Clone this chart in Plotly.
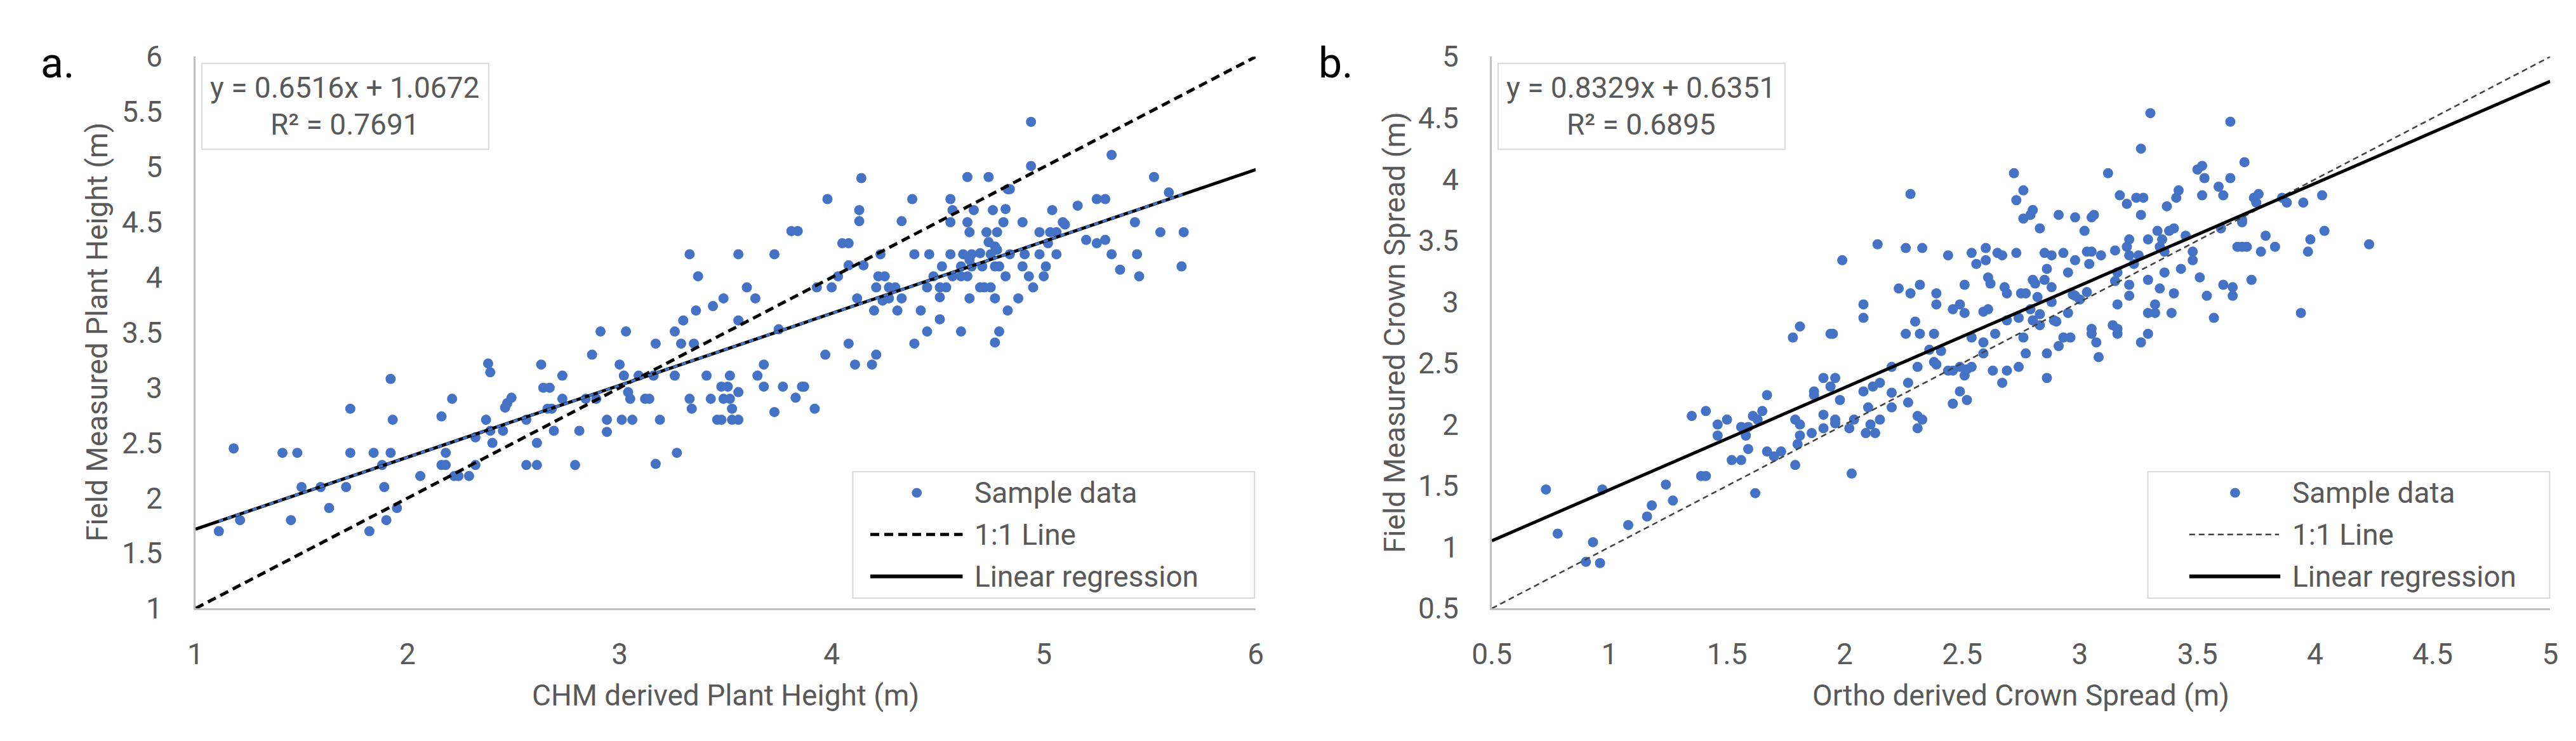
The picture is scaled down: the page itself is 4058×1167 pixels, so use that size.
import plotly.graph_objects as go

W, H = 4058, 1167
FONT = "Roboto, 'Open Sans', sans-serif"
TEXT = "#595959"
BLUE = "#4472C4"
AXIS = "#BFBFBF"

# panel a: CHM derived vs field measured plant height
a_x = [1.18, 1.11, 1.21, 1.41, 1.48, 1.50, 1.59, 1.45, 1.63, 1.71,
       1.73, 1.73, 1.84, 1.92, 1.88, 1.89, 1.92, 1.93, 1.95, 1.90,
       1.82, 2.06, 2.16, 2.21, 2.18, 2.16, 2.18, 2.22, 2.24, 2.29,
       2.32, 2.32, 2.37, 2.38, 2.39, 2.39, 2.40, 2.45, 2.46, 2.47,
       2.49, 2.56, 2.56, 2.61, 2.61, 2.63, 2.64, 2.67, 2.66, 2.68,
       2.69, 2.73, 2.73, 2.79, 2.81, 2.84,
       2.91, 2.87, 2.89, 3.03, 3.00, 3.02, 3.04, 3.05, 3.09, 3.12,
       3.14, 2.94, 2.94, 3.01, 3.06, 3.19, 3.17, 3.16, 3.17, 3.27,
       3.26, 3.29, 3.30, 3.26, 3.33, 3.37, 3.36, 3.35, 3.33, 3.34,
       3.41, 3.43, 3.44, 3.49, 3.56, 3.60, 3.64, 3.56, 3.46, 3.48,
       3.53, 3.56, 3.53, 3.48, 3.51, 3.52, 3.56, 3.49, 3.52, 3.65,
       3.68, 3.68, 3.77, 3.86, 3.87, 3.83, 3.92, 3.73, 3.73, 3.75,
       3.81, 3.84, 3.93, 3.98, 3.97, 4.00, 4.03, 4.05, 4.08, 4.08,
       4.08, 4.11, 4.19, 4.21, 4.12, 4.14, 4.13, 4.13, 4.15, 4.23,
       4.22, 4.25, 4.21, 4.20, 4.24, 4.27, 4.27, 4.30, 4.31, 4.33,
       4.33, 4.38, 4.39, 4.42, 4.39, 4.45, 4.46, 4.48, 4.45,
       4.94, 4.94, 5.32, 4.64, 4.74, 5.52, 4.83, 4.84, 4.56, 4.57,
       4.56, 4.67, 4.76, 4.82, 4.64, 4.81, 4.90, 4.65, 4.73, 4.78,
       5.04, 5.16, 5.25, 5.29, 5.59, 5.43, 5.09, 5.10, 4.98, 5.03,
       5.06, 5.55, 5.66, 5.20, 5.25, 5.29, 5.02, 4.74, 4.77, 4.78,
       4.56, 4.62, 4.66, 4.70, 4.75, 4.84, 4.91, 4.98, 5.06, 5.32,
       5.44, 4.65, 4.52, 4.61, 4.66, 4.71, 4.77, 4.79, 4.90, 5.01,
       5.65, 5.36, 4.57, 4.61, 4.64, 4.82, 4.93, 5.00, 5.45, 4.51,
       4.54, 4.70, 4.72, 4.75, 4.95, 4.51, 4.65, 4.77, 4.88, 4.83,
       4.51, 4.61, 4.79, 4.77]
a_y = [2.45, 1.70, 1.80, 2.41, 2.41, 2.10, 2.10, 1.80, 1.91, 2.10,
       2.81, 2.41, 2.41, 2.41, 2.30, 2.10, 3.08, 2.71, 1.91, 1.80,
       1.70, 2.20, 2.74, 2.90, 2.41, 2.30, 2.30, 2.20, 2.20, 2.20,
       2.30, 2.55, 2.71, 3.22, 3.14, 2.61, 2.50, 2.61, 2.82, 2.86,
       2.91, 2.71, 2.30, 2.30, 2.50, 3.21, 3.00, 3.00, 2.81, 2.81,
       2.61, 3.11, 2.90, 2.30, 2.61, 2.90,
       3.51, 3.30, 2.90, 3.51, 3.21, 3.11, 2.96, 2.90, 3.11, 2.90,
       2.90, 2.71, 2.60, 2.71, 2.71, 2.71, 3.40, 3.11, 2.31, 2.41,
       3.51, 3.40, 3.61, 3.11, 4.21, 4.01, 3.70, 3.40, 2.90, 2.81,
       3.11, 2.90, 3.74, 3.81, 4.21, 3.91, 3.81, 3.61, 2.71, 2.71,
       2.71, 2.71, 2.81, 3.01, 3.01, 3.11, 2.96, 2.90, 2.90, 3.11,
       3.21, 3.01, 3.01, 3.01, 3.01, 2.91, 2.81, 2.78, 4.21, 3.53,
       4.42, 4.42, 3.91, 4.71, 3.30, 3.91, 4.01, 4.31, 4.31, 4.11,
       3.40, 3.21, 3.21, 3.30, 3.81, 4.90, 4.61, 4.51, 4.11, 4.21,
       4.01, 4.01, 3.91, 3.70, 3.79, 3.81, 3.91, 3.91, 3.70, 3.81,
       4.51, 4.71, 4.21, 3.70, 3.40, 3.51, 4.21, 4.01, 3.91,
       5.41, 5.01, 5.11, 4.91, 4.91, 4.91, 4.80, 4.80, 4.71, 4.61,
       4.50, 4.61, 4.61, 4.62, 4.50, 4.50, 4.50, 4.41, 4.41, 4.41,
       4.61, 4.65, 4.71, 4.71, 4.77, 4.50, 4.50, 4.48, 4.41, 4.41,
       4.41, 4.41, 4.41, 4.34, 4.31, 4.34, 4.31, 4.32, 4.28, 4.25,
       4.21, 4.21, 4.21, 4.22, 4.21, 4.21, 4.21, 4.21, 4.21, 4.21,
       4.21, 4.16, 4.10, 4.10, 4.10, 4.10, 4.10, 4.10, 4.10, 4.10,
       4.10, 4.07, 4.01, 4.01, 4.01, 4.01, 4.01, 4.01, 4.01, 3.91,
       3.91, 3.91, 3.91, 3.91, 3.91, 3.82, 3.81, 3.81, 3.81, 3.70,
       3.62, 3.51, 3.51, 3.41]
a_slope, a_icept, a_r2 = 0.6516, 1.0672, 0.7691

# panel b: ortho derived vs field measured crown spread
b_x = [0.73, 0.78, 0.97, 0.93, 0.90, 0.96, 1.08, 1.16, 1.18, 1.24,
       1.27, 1.35, 1.39, 1.41, 1.41, 1.46, 1.46,
       2.14, 2.26, 2.33, 1.99, 2.44, 2.54, 2.60, 2.60, 2.56, 2.65,
       2.67, 2.73, 2.85, 2.88, 2.93, 2.86, 2.23, 2.28, 2.32, 2.39,
       2.39, 2.51, 2.61, 2.62, 2.68, 2.69, 2.75, 2.77, 2.80, 2.81,
       2.85, 2.88, 2.82, 2.88, 2.79, 2.83, 2.80, 2.83, 2.89, 2.90,
       2.76, 2.77, 2.86, 2.91, 2.93, 2.86, 2.74, 2.69, 2.63, 2.67,
       2.59, 2.59, 2.64, 2.59, 2.61, 2.54, 2.69, 2.74, 2.46, 2.49,
       2.51, 2.08, 2.08, 2.30, 2.26, 2.32, 2.38, 1.81, 1.78, 1.94,
       1.95, 2.36, 2.41, 2.38, 2.39, 2.44, 2.46, 2.49, 2.52, 2.54,
       2.51, 2.31, 2.20, 2.27, 2.20, 2.27, 2.20, 2.15, 2.12, 2.08,
       2.10, 2.49, 2.46, 2.52, 2.31, 2.33, 2.31, 2.15, 2.11, 2.09,
       2.13, 2.04, 2.02, 1.96, 1.96, 1.91, 1.91, 1.98, 1.91, 1.94,
       1.96, 1.87, 1.87, 1.79, 1.81, 1.86, 1.81, 1.80, 1.79, 1.73,
       1.67, 1.70, 1.67, 1.65, 1.61, 1.63, 1.56, 1.59, 1.58, 1.50,
       1.59, 1.52, 1.56, 1.62, 2.03,
       2.28, 2.72, 2.73, 2.76, 2.79, 2.76, 2.80, 2.83, 2.91,
       3.30, 3.64, 3.26, 3.12, 3.70, 3.50, 3.52, 3.53, 3.64, 3.59,
       3.61, 3.52, 3.42, 3.41, 3.17, 3.24, 3.27, 3.20, 3.37, 3.26,
       2.98, 3.05, 3.06, 3.02, 3.74, 3.76, 3.75, 3.86, 3.88, 3.95,
       4.03, 4.04, 3.98, 3.97, 4.23, 3.94, 3.79, 3.83, 3.77, 3.67,
       3.69, 3.71, 3.69, 3.69, 3.60, 3.45, 3.40, 3.38, 3.33, 3.35,
       3.29, 3.21, 3.20, 3.15, 3.21, 3.25, 3.23, 3.34, 3.36, 3.48,
       3.48, 3.03, 3.05, 3.09, 2.98, 3.04, 2.95, 3.16, 3.15, 3.29,
       3.36, 3.43, 3.51, 3.73, 3.61, 3.65, 3.65, 3.54, 3.21, 3.34,
       3.40, 3.21, 2.97, 3.00, 3.03, 2.98, 2.95, 3.16, 3.32, 3.29,
       3.32, 3.39, 3.57, 3.14, 3.16, 3.16, 3.05, 3.05, 3.07, 3.08,
       2.96, 3.26, 3.29]
b_y = [1.47, 1.11, 1.47, 1.04, 0.88, 0.87, 1.18, 1.25, 1.34, 1.51,
       1.38, 2.07, 1.58, 1.58, 2.11, 2.00, 1.91,
       3.47, 3.44, 3.44, 3.34, 3.38, 3.40, 3.44, 3.34, 3.31, 3.40,
       3.38, 3.40, 3.40, 3.38, 3.40, 3.27, 3.11, 3.07, 3.14, 3.07,
       2.98, 3.14, 3.20, 3.15, 3.12, 3.07, 3.07, 3.07, 3.18, 3.15,
       3.18, 3.12, 3.04, 3.00, 2.94, 2.90, 2.85, 2.81, 2.85, 2.84,
       2.71, 2.58, 2.58, 2.64, 2.71, 2.38, 2.47, 2.44, 2.44, 2.34,
       2.67, 2.58, 2.74, 2.92, 2.94, 2.71, 2.85, 2.87, 2.94, 2.98,
       2.91, 2.98, 2.87, 2.84, 2.74, 2.74, 2.74, 2.80, 2.71, 2.74,
       2.74, 2.61, 2.60, 2.51, 2.49, 2.44, 2.44, 2.47, 2.45, 2.47,
       2.40, 2.47, 2.47, 2.34, 2.26, 2.18, 2.14, 2.34, 2.31, 2.27,
       2.14, 2.27, 2.17, 2.20, 2.07, 2.04, 1.97, 2.04, 2.00, 1.93,
       1.93, 2.04, 1.97, 2.04, 2.01, 1.97, 2.08, 2.20, 2.38, 2.31,
       2.38, 2.27, 2.24, 2.04, 2.00, 1.93, 1.91, 1.84, 1.67, 1.78,
       1.78, 1.74, 2.24, 2.11, 2.07, 2.04, 1.98, 1.98, 1.91, 2.04,
       1.80, 1.71, 1.71, 1.44, 1.60,
       3.88, 4.05, 3.83, 3.91, 3.71, 3.68, 3.75, 3.60, 3.71,
       4.54, 4.47, 4.25, 4.05, 4.14, 4.08, 4.11, 4.01, 4.01, 3.94,
       3.87, 3.87, 3.91, 3.85, 3.87, 3.85, 3.85, 3.80, 3.78, 3.71,
       3.69, 3.69, 3.71, 3.58, 3.85, 3.88, 3.81, 3.85, 3.81, 3.81,
       3.87, 3.58, 3.51, 3.41, 3.47, 2.91, 3.54, 3.45, 3.41, 3.45,
       3.45, 3.45, 3.65, 3.67, 3.60, 3.54, 3.60, 3.58, 3.58, 3.51,
       3.51, 3.51, 3.45, 3.42, 3.38, 3.38, 3.31, 3.45, 3.41, 3.41,
       3.34, 3.41, 3.41, 3.38, 3.34, 3.31, 3.24, 3.24, 3.17, 3.18,
       3.24, 3.27, 3.20, 3.18, 3.14, 3.12, 3.05, 3.05, 3.14, 3.11,
       3.07, 3.05, 3.06, 3.02, 3.08, 3.05, 2.91, 2.98, 2.98, 2.91,
       2.91, 2.91, 2.87, 2.81, 2.78, 2.74, 2.78, 2.74, 2.67, 2.55,
       2.71, 2.67, 2.74]
b_slope, b_icept, b_r2 = 0.8329, 0.6351, 0.6895

assert len(a_x) == len(a_y) and len(b_x) == len(b_y)

a_range = [1, 6]
b_range = [0.5, 5]
legend_labels = ["Sample data", "1:1 Line", "Linear regression"]


def px(x):
    return x / W


def py(y):
    return 1 - y / H


def fit(xs, slope, icept):
    return [slope * v + icept for v in xs]


fig = go.Figure()

# panel a traces
fig.add_trace(go.Scatter(x=a_x, y=a_y, mode="markers", xaxis="x", yaxis="y",
                         marker=dict(size=16, color=BLUE, line=dict(width=0))))
fig.add_trace(go.Scatter(x=a_range, y=a_range, mode="lines", xaxis="x", yaxis="y",
                         line=dict(color="black", width=5, dash="14px,8px")))
fig.add_trace(go.Scatter(x=a_range, y=fit(a_range, a_slope, a_icept), mode="lines",
                         xaxis="x", yaxis="y", line=dict(color="black", width=5)))
a_span = [min(a_x), max(a_x)]
fig.add_trace(go.Scatter(x=a_span, y=fit(a_span, a_slope, a_icept), mode="lines",
                         xaxis="x", yaxis="y", line=dict(color=BLUE, width=4, dash="7px,7px")))

# panel b traces
fig.add_trace(go.Scatter(x=b_x, y=b_y, mode="markers", xaxis="x2", yaxis="y2",
                         marker=dict(size=16, color=BLUE, line=dict(width=0))))
fig.add_trace(go.Scatter(x=b_range, y=b_range, mode="lines", xaxis="x2", yaxis="y2",
                         line=dict(color="#404040", width=2.5, dash="9px,6px")))
fig.add_trace(go.Scatter(x=b_range, y=fit(b_range, b_slope, b_icept), mode="lines",
                         xaxis="x2", yaxis="y2", line=dict(color="black", width=5)))


def axis(rng, dtick, domain, anchor, standoff):
    return dict(range=rng, dtick=dtick, tick0=rng[0], domain=domain, anchor=anchor,
                showline=True, linecolor=AXIS, linewidth=3, showgrid=False,
                zeroline=False, ticks="", ticklabelstandoff=standoff,
                tickfont=dict(family=FONT, size=46, color=TEXT), fixedrange=True)


ydom = [py(968), py(57)]
fig.update_layout(
    width=W, height=H, autosize=False,
    margin=dict(l=0, r=0, t=0, b=0),
    paper_bgcolor="white", plot_bgcolor="white",
    showlegend=False,
    xaxis=axis(a_range, 1, [px(271), px(1960)], "y", 30),
    yaxis=axis(a_range, 0.5, ydom, "x", 40),
    xaxis2=axis(b_range, 0.5, [px(2336), px(4022)], "y2", 30),
    yaxis2=axis(b_range, 0.5, ydom, "x2", 40),
)

shapes = []
annotations = []


def text(x, y, s, size=46, color=TEXT, xanchor="center", angle=0):
    annotations.append(dict(x=px(x), y=py(y), xref="paper", yref="paper", text=s,
                            showarrow=False, xanchor=xanchor, yanchor="middle",
                            textangle=angle, font=dict(family=FONT, size=size, color=color)))


def box(x0, y0, x1, y1):
    shapes.append(dict(type="rect", xref="paper", yref="paper",
                       x0=px(x0), x1=px(x1), y0=py(y1), y1=py(y0),
                       line=dict(color="#D9D9D9", width=2), fillcolor="white", layer="below"))


def hline(x0, x1, y, color, width, dash="solid"):
    shapes.append(dict(type="line", xref="paper", yref="paper",
                       x0=px(x0), x1=px(x1), y0=py(y), y1=py(y),
                       line=dict(color=color, width=width, dash=dash)))


def dot(x, y, r=8):
    shapes.append(dict(type="circle", xref="paper", yref="paper",
                       x0=px(x - r), x1=px(x + r), y0=py(y + r), y1=py(y - r),
                       line=dict(width=0), fillcolor=BLUE))


# panel labels
text(22, 68, "a.", size=66, color="black", xanchor="left")
text(2058, 68, "b.", size=66, color="black", xanchor="left")

# axis titles
text(1115, 1111, "CHM derived Plant Height (m)")
text(115, 512, "Field Measured Plant Height (m)", angle=-90)
text(3179, 1111, "Ortho derived Crown Spread (m)")
text(2181, 512, "Field Measured Crown Spread (m)", angle=-90)

# regression equation boxes
box(281, 68, 738, 210)
text(509, 108, f"y = {a_slope}x + {a_icept}")
text(509, 169, f"R² = {a_r2}")
box(2346, 68, 2803, 210)
text(2574, 108, f"y = {b_slope}x + {b_icept}")
text(2574, 169, f"R² = {b_r2}")

# legends
rows = [777, 846, 915]
box(1318, 742, 1958, 951)
dot(1420, rows[0])
hline(1346, 1493, rows[1], "black", 5, "14px,8px")
hline(1346, 1493, rows[2], "black", 6)
for r, lab in zip(rows, legend_labels):
    text(1510, r, lab, xanchor="left")

box(3381, 742, 4021, 951)
dot(3520, rows[0])
hline(3447, 3590, rows[1], "#404040", 2.5, "9px,6px")
hline(3447, 3592, rows[2], "black", 6)
for r, lab in zip(rows, legend_labels):
    text(3609, r, lab, xanchor="left")

fig.update_layout(shapes=shapes, annotations=annotations)
fig.write_html("out.html")
